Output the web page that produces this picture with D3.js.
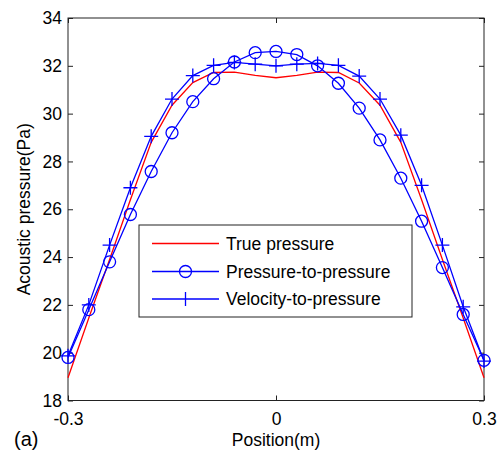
<!DOCTYPE html>
<html>
<head>
<meta charset="utf-8">
<style>
    body { margin: 0; background: #fff; }
    text { font-family: "Liberation Sans", Arial, sans-serif; fill: #000; }
</style>
</head>
<body>
<div id="chart"></div>
<script src="https://cdn.jsdelivr.net/npm/d3@7/dist/d3.min.js"></script>
<script>
    var width = 498,
        height = 454;

    var positions = [-0.3, -0.27, -0.24, -0.21, -0.18, -0.15, -0.12, -0.09, -0.06, -0.03, 0,
                     0.03, 0.06, 0.09, 0.12, 0.15, 0.18, 0.21, 0.24, 0.27, 0.3];
    var truePressure = [18.95, 21.45, 23.9, 26.4, 28.8, 30.35, 31.3, 31.72, 31.74, 31.6, 31.5,
                        31.6, 31.74, 31.72, 31.28, 30.35, 28.8, 26.4, 23.9, 21.45, 18.95];
    var pressureToPressure = [19.8, 21.8, 23.8, 25.78, 27.58, 29.2, 30.5, 31.46, 32.16, 32.55, 32.6,
                              32.47, 32.0, 31.27, 30.23, 28.9, 27.3, 25.5, 23.56, 21.6, 19.68];
    var velocityToPressure = [19.87, 22.0, 24.5, 26.9, 29.05, 30.61, 31.59, 32.02, 32.14, 32.07, 32.0,
                              32.07, 32.1, 32.02, 31.57, 30.61, 29.1, 27.0, 24.5, 21.92, 19.65];
    var xTicks = [-0.3, 0, 0.3];
    var yTicks = [18, 20, 22, 24, 26, 28, 30, 32, 34];
    var legendLabels = ['True pressure', 'Pressure-to-pressure', 'Velocity-to-pressure'];

    var fs = '17.5px';
    var margin = {left: 68, top: 18, right: 14, bottom: 53.5};
    var w = width - margin.left - margin.right,
        h = height - margin.top - margin.bottom;

    var svg = d3.select('#chart').append('svg')
        .attr('width', width)
        .attr('height', height);

    var g = svg.append('g')
        .attr('transform', 'translate(' + margin.left + ',' + margin.top + ')');

    var x = d3.scaleLinear().domain([-0.3, 0.3]).range([0, w]);
    var y = d3.scaleLinear().domain([18, 34]).range([h, 0]);

    var fmtX = function(d){ return d === 0 ? '0' : d.toFixed(1); };

    // axes, ticks point inward like matlab
    var axLeft = g.append('g').call(d3.axisLeft(y).tickValues(yTicks).tickSize(-5).tickPadding(6));
    var axRight = g.append('g').attr('transform', 'translate(' + w + ',0)')
        .call(d3.axisRight(y).tickValues(yTicks).tickSize(-5).tickFormat(''));
    var axBottom = g.append('g').attr('transform', 'translate(0,' + h + ')')
        .call(d3.axisBottom(x).tickValues(xTicks).tickSize(-5).tickPadding(12).tickFormat(fmtX));
    var axTop = g.append('g')
        .call(d3.axisTop(x).tickValues(xTicks).tickSize(-5).tickFormat(''));

    [axLeft, axRight, axBottom, axTop].forEach(function(a){
        a.select('.domain').remove();
        a.selectAll('line').attr('stroke', '#222');
        a.selectAll('text').style('font-size', fs).attr('fill', '#000');
    });

    g.append('rect')
        .attr('width', w)
        .attr('height', h)
        .attr('fill', 'none')
        .attr('stroke', '#222')
        .attr('stroke-width', 1);

    var line = d3.line()
        .x(function(d){ return x(d[0]); })
        .y(function(d){ return y(d[1]); });

    function pairs(vals){ return positions.map(function(p, i){ return [p, vals[i]]; }); }

    g.append('path')
        .attr('d', line(pairs(truePressure)))
        .attr('fill', 'none')
        .attr('stroke', '#ff0000')
        .attr('stroke-width', 1.3);

    g.append('path')
        .attr('d', line(pairs(pressureToPressure)))
        .attr('fill', 'none')
        .attr('stroke', '#0000ff')
        .attr('stroke-width', 1.3);

    g.append('path')
        .attr('d', line(pairs(velocityToPressure)))
        .attr('fill', 'none')
        .attr('stroke', '#0000ff')
        .attr('stroke-width', 1.3);

    g.selectAll('.circ')
        .data(pairs(pressureToPressure))
        .enter().append('circle')
        .attr('cx', function(d){ return x(d[0]); })
        .attr('cy', function(d){ return y(d[1]); })
        .attr('r', 6)
        .attr('fill', 'none')
        .attr('stroke', '#0000ff')
        .attr('stroke-width', 1.3);

    g.selectAll('.plus')
        .data(pairs(velocityToPressure))
        .enter().append('path')
        .attr('d', function(d){
            var cx = x(d[0]), cy = y(d[1]);
            return 'M' + (cx - 7) + ',' + cy + 'H' + (cx + 7) + 'M' + cx + ',' + (cy - 7) + 'V' + (cy + 7);
        })
        .attr('fill', 'none')
        .attr('stroke', '#0000ff')
        .attr('stroke-width', 1.3);

    // legend
    var lg = svg.append('g').attr('transform', 'translate(139,225)');
    lg.append('rect')
        .attr('width', 273)
        .attr('height', 92)
        .attr('fill', '#fff')
        .attr('stroke', '#222')
        .attr('stroke-width', 1);

    var rows = [18.5, 46.5, 74];
    legendLabels.forEach(function(lab, i){
        var ry = rows[i];
        lg.append('line')
            .attr('x1', 13).attr('x2', 80)
            .attr('y1', ry).attr('y2', ry)
            .attr('stroke', i === 0 ? '#ff0000' : '#0000ff')
            .attr('stroke-width', 1.3);
        if(i === 1){
            lg.append('circle').attr('cx', 46.5).attr('cy', ry).attr('r', 6)
                .attr('fill', 'none').attr('stroke', '#0000ff').attr('stroke-width', 1.3);
        } else if(i === 2){
            lg.append('path').attr('d', 'M46.5,' + (ry - 7) + 'V' + (ry + 7))
                .attr('stroke', '#0000ff').attr('stroke-width', 1.3);
        }
        lg.append('text')
            .attr('x', 87)
            .attr('y', ry)
            .attr('dy', '0.35em')
            .style('font-size', fs)
            .text(lab);
    });

    svg.append('text')
        .attr('x', margin.left + w / 2)
        .attr('y', 446)
        .attr('text-anchor', 'middle')
        .style('font-size', fs)
        .text('Position(m)');

    svg.append('text')
        .attr('x', 14)
        .attr('y', 446)
        .style('font-size', '20px')
        .text('(a)');

    svg.append('text')
        .attr('transform', 'translate(30,' + (margin.top + h / 2) + ') rotate(-90)')
        .attr('text-anchor', 'middle')
        .style('font-size', fs)
        .text('Acoustic pressure(Pa)');
</script>
</body>
</html>
